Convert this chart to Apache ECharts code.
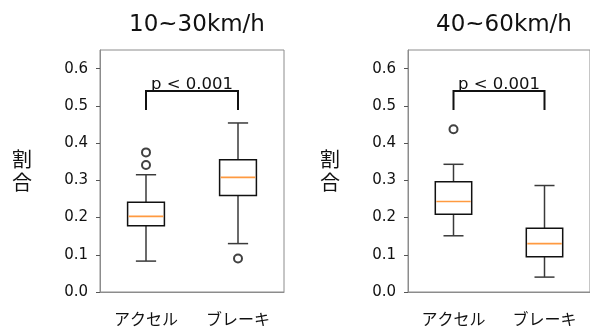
<!DOCTYPE html>
<html><head><meta charset="utf-8">
<script src="https://cdn.jsdelivr.net/npm/echarts@6/dist/echarts.min.js"></script>
<style>html,body{margin:0;padding:0;background:#fff}#c{width:590px;height:331px}</style>
</head><body><div id="c"></div>
<script>
var categories = ['アクセル', 'ブレーキ'];
var titles = ['10~30km/h', '40~60km/h'];
var yTicks = [0, 0.1, 0.2, 0.3, 0.4, 0.5, 0.6];
// [whiskerLow, Q1, median, Q3, whiskerHigh]
var box1030 = [[0.083, 0.178, 0.203, 0.241, 0.315], [0.130, 0.259, 0.308, 0.355, 0.454]];
var box4060 = [[0.151, 0.209, 0.243, 0.296, 0.343], [0.040, 0.095, 0.130, 0.171, 0.286]];
var outliers1030 = [[0, 0.341], [0, 0.375], [1, 0.090]];
var outliers4060 = [[0, 0.437]];
var pLabel = 'p < 0.001';
var bracket = [0.489, 0.540]; // [end height, top height]

var FONT = '"DejaVu Sans", "Noto Sans CJK JP", sans-serif';
var CJK = '"Noto Sans CJK JP", sans-serif';
var chart = echarts.init(document.getElementById('c'), null, {renderer: 'canvas'});

function boxRender(params, api) {
  var x = api.value(0);
  var lo = api.coord([x, api.value(1)]);
  var q1 = api.coord([x, api.value(2)]);
  var md = api.coord([x, api.value(3)]);
  var q3 = api.coord([x, api.value(4)]);
  var hi = api.coord([x, api.value(5)]);
  var band = api.size([1, 0])[0];
  var bw = band * 0.4, cw = band * 0.22;
  var cx = lo[0];
  var wh = {stroke: '#3a3a3a', lineWidth: 1.5};
  return {type: 'group', children: [
    {type: 'line', shape: {x1: cx, y1: q1[1], x2: cx, y2: lo[1]}, style: wh},
    {type: 'line', shape: {x1: cx, y1: q3[1], x2: cx, y2: hi[1]}, style: wh},
    {type: 'line', shape: {x1: cx - cw / 2, y1: lo[1], x2: cx + cw / 2, y2: lo[1]}, style: wh},
    {type: 'line', shape: {x1: cx - cw / 2, y1: hi[1], x2: cx + cw / 2, y2: hi[1]}, style: wh},
    {type: 'rect', shape: {x: cx - bw / 2, y: q3[1], width: bw, height: q1[1] - q3[1]}, style: {fill: '#fff', stroke: '#111', lineWidth: 1.5}},
    {type: 'line', shape: {x1: cx - bw / 2 + 1, y1: md[1], x2: cx + bw / 2 - 1, y2: md[1]}, style: {stroke: '#ff9a40', lineWidth: 1.6}}
  ]};
}

function bracketRender(params, api) {
  var a0 = api.coord([0, api.value(0)]);
  var a1 = api.coord([0, api.value(1)]);
  var b0 = api.coord([1, api.value(0)]);
  var b1 = api.coord([1, api.value(1)]);
  return {type: 'group', children: [
    {type: 'polyline', shape: {points: [[a0[0], a0[1]], [a1[0], a1[1]], [b1[0], b1[1]], [b0[0], b0[1]]]}, style: {stroke: '#111', lineWidth: 2, fill: null}},
    {type: 'text', x: (a1[0] + b1[0]) / 2, y: a1[1] + 2, style: {text: pLabel, fill: '#111', font: '16.5px ' + FONT, align: 'center', verticalAlign: 'bottom'}}
  ]};
}

function boxData(arr) {
  return arr.map(function (b, i) { return [i].concat(b); });
}

var grids = [
  {left: 100, top: 50, width: 184, bottom: 39},
  {left: 408, top: 50, width: 182, bottom: 39}
];
var boxes = [box1030, box4060];
var outs = [outliers1030, outliers4060];
var centers = [192, 499];

var option = {
  animation: false,
  backgroundColor: '#fff',
  title: titles.map(function (t, i) {
    return {text: t, left: centers[i], top: 9, textAlign: 'center',
      textStyle: {fontFamily: FONT, fontSize: 23, fontWeight: 'normal', color: '#111'}};
  }),
  grid: grids.map(function (g) {
    return Object.assign({show: true, borderColor: '#8c8c8c', borderWidth: 1, containLabel: false}, g);
  }),
  xAxis: grids.map(function (g, i) {
    return {type: 'category', gridIndex: i, data: categories, boundaryGap: true,
      axisLine: {lineStyle: {color: '#8c8c8c', width: 1}},
      axisTick: {alignWithLabel: true, length: 4, lineStyle: {color: '#555'}},
      axisLabel: {margin: 19, fontFamily: CJK, fontSize: 16, color: '#111'},
      splitLine: {show: false}};
  }),
  yAxis: grids.map(function (g, i) {
    return {type: 'value', gridIndex: i, min: 0, max: 0.65, interval: 0.1,
      name: '割\n合', nameLocation: 'middle', nameRotate: 0, nameGap: 68,
      nameTextStyle: {fontFamily: CJK, fontSize: 20, lineHeight: 23, color: '#111'},
      axisLine: {show: true, lineStyle: {color: '#8c8c8c', width: 1}},
      axisTick: {show: true, length: 4, customValues: yTicks, lineStyle: {color: '#555'}},
      axisLabel: {margin: 12, customValues: yTicks, fontFamily: FONT, fontSize: 15, color: '#111',
        formatter: function (v) { return v.toFixed(1); }},
      splitLine: {show: false}};
  }),
  series: []
};

[0, 1].forEach(function (i) {
  option.series.push({type: 'custom', xAxisIndex: i, yAxisIndex: i, renderItem: boxRender,
    encode: {x: 0, y: [1, 2, 3, 4, 5]}, data: boxData(boxes[i]), z: 2});
  option.series.push({type: 'scatter', xAxisIndex: i, yAxisIndex: i, data: outs[i],
    symbol: 'emptyCircle', symbolSize: 8, itemStyle: {color: '#111', borderColor: '#111', borderWidth: 1.2}, z: 3});
  option.series.push({type: 'custom', xAxisIndex: i, yAxisIndex: i, renderItem: bracketRender,
    encode: {x: -1, y: [0, 1]}, data: [bracket], z: 4});
});

chart.setOption(option);
</script></body></html>
